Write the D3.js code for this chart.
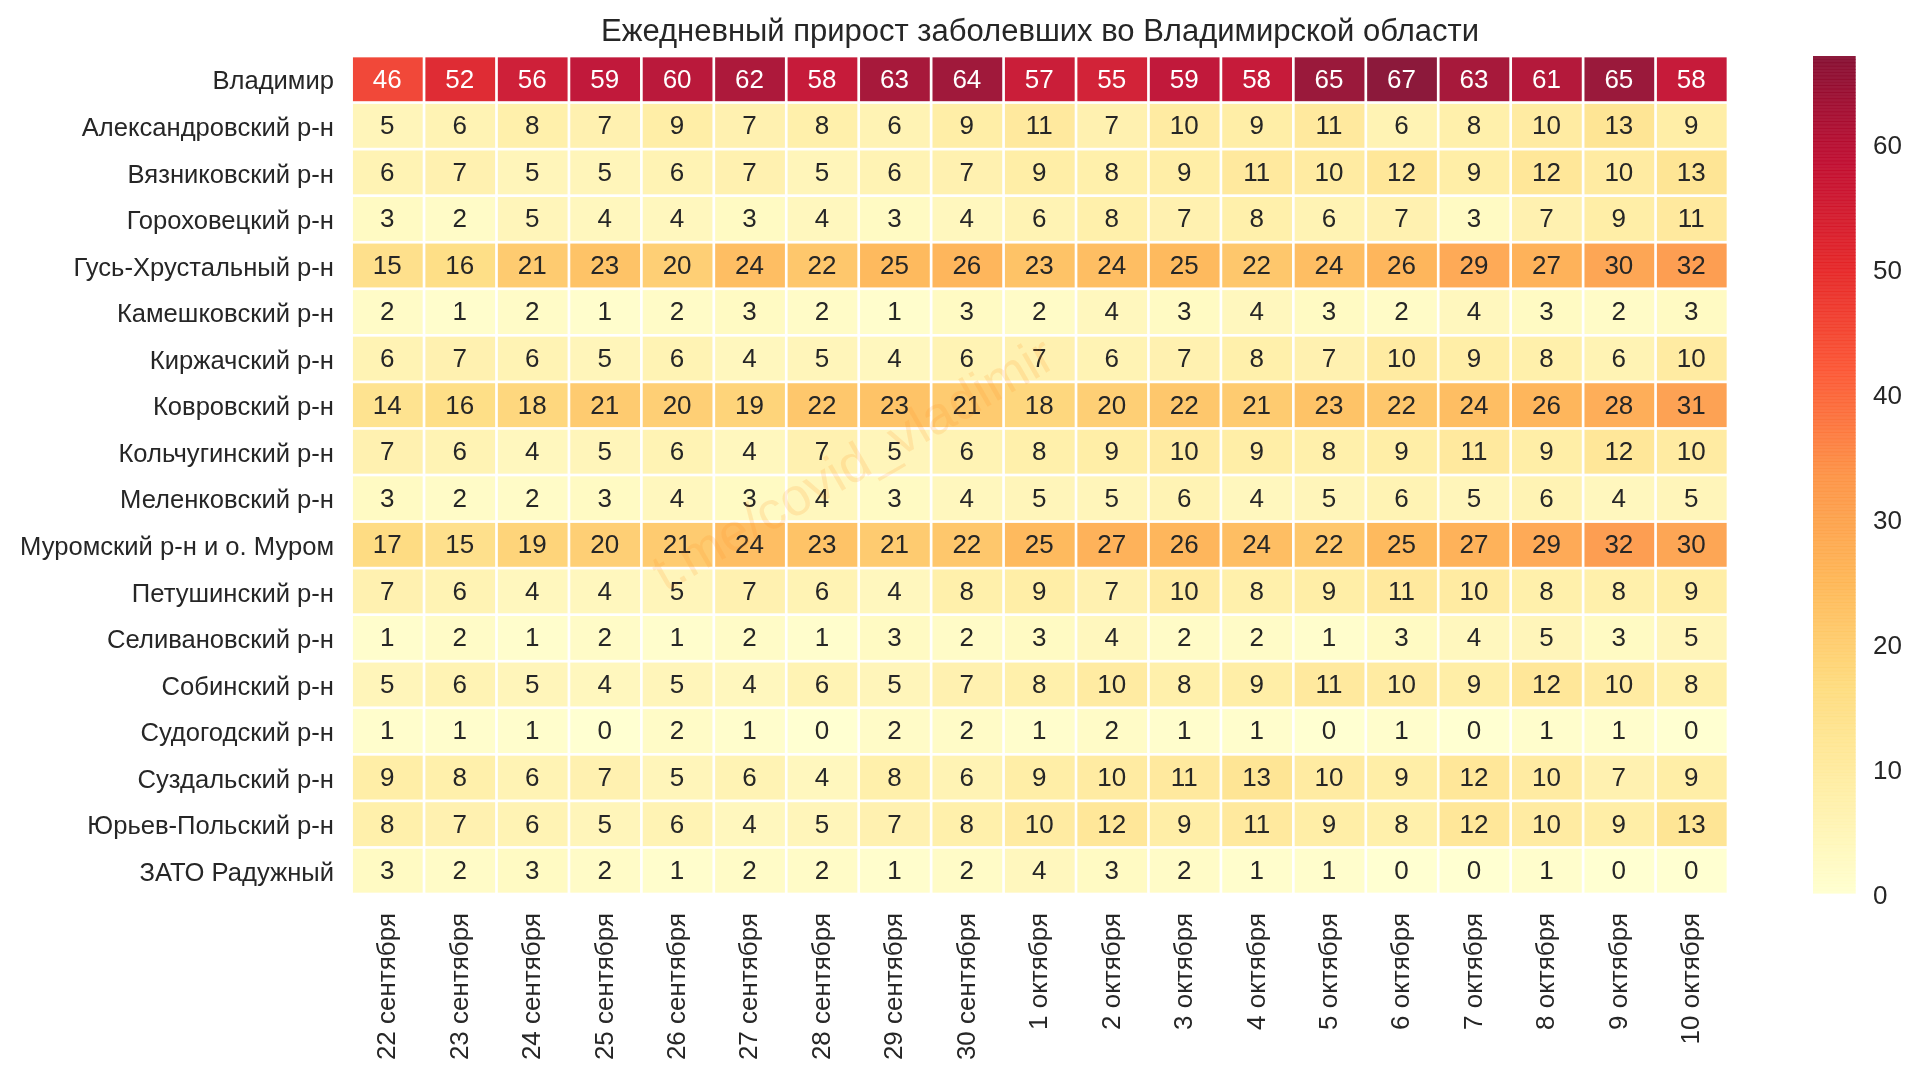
<!DOCTYPE html>
<html>
<head>
<meta charset="utf-8">
<script src="https://cdn.jsdelivr.net/npm/d3@7"></script>
<style>
  html, body { margin: 0; background: #fff; }
  svg { display: block; filter: blur(0.45px); }
  text { font-family: "Liberation Sans", Arial, sans-serif; fill: #262626; }
</style>
</head>
<body>
<svg id="chart" width="1920" height="1076"></svg>
<script>
const districts = ["Владимир", "Александровский р-н", "Вязниковский р-н", "Гороховецкий р-н", "Гусь-Хрустальный р-н", "Камешковский р-н", "Киржачский р-н", "Ковровский р-н", "Кольчугинский р-н", "Меленковский р-н", "Муромский р-н и о. Муром", "Петушинский р-н", "Селивановский р-н", "Собинский р-н", "Судогодский р-н", "Суздальский р-н", "Юрьев-Польский р-н", "ЗАТО Радужный"];
const days = ["22 сентября", "23 сентября", "24 сентября", "25 сентября", "26 сентября", "27 сентября", "28 сентября", "29 сентября", "30 сентября", "1 октября", "2 октября", "3 октября", "4 октября", "5 октября", "6 октября", "7 октября", "8 октября", "9 октября", "10 октября"];
const counts = [
  [46, 52, 56, 59, 60, 62, 58, 63, 64, 57, 55, 59, 58, 65, 67, 63, 61, 65, 58],
  [5, 6, 8, 7, 9, 7, 8, 6, 9, 11, 7, 10, 9, 11, 6, 8, 10, 13, 9],
  [6, 7, 5, 5, 6, 7, 5, 6, 7, 9, 8, 9, 11, 10, 12, 9, 12, 10, 13],
  [3, 2, 5, 4, 4, 3, 4, 3, 4, 6, 8, 7, 8, 6, 7, 3, 7, 9, 11],
  [15, 16, 21, 23, 20, 24, 22, 25, 26, 23, 24, 25, 22, 24, 26, 29, 27, 30, 32],
  [2, 1, 2, 1, 2, 3, 2, 1, 3, 2, 4, 3, 4, 3, 2, 4, 3, 2, 3],
  [6, 7, 6, 5, 6, 4, 5, 4, 6, 7, 6, 7, 8, 7, 10, 9, 8, 6, 10],
  [14, 16, 18, 21, 20, 19, 22, 23, 21, 18, 20, 22, 21, 23, 22, 24, 26, 28, 31],
  [7, 6, 4, 5, 6, 4, 7, 5, 6, 8, 9, 10, 9, 8, 9, 11, 9, 12, 10],
  [3, 2, 2, 3, 4, 3, 4, 3, 4, 5, 5, 6, 4, 5, 6, 5, 6, 4, 5],
  [17, 15, 19, 20, 21, 24, 23, 21, 22, 25, 27, 26, 24, 22, 25, 27, 29, 32, 30],
  [7, 6, 4, 4, 5, 7, 6, 4, 8, 9, 7, 10, 8, 9, 11, 10, 8, 8, 9],
  [1, 2, 1, 2, 1, 2, 1, 3, 2, 3, 4, 2, 2, 1, 3, 4, 5, 3, 5],
  [5, 6, 5, 4, 5, 4, 6, 5, 7, 8, 10, 8, 9, 11, 10, 9, 12, 10, 8],
  [1, 1, 1, 0, 2, 1, 0, 2, 2, 1, 2, 1, 1, 0, 1, 0, 1, 1, 0],
  [9, 8, 6, 7, 5, 6, 4, 8, 6, 9, 10, 11, 13, 10, 9, 12, 10, 7, 9],
  [8, 7, 6, 5, 6, 4, 5, 7, 8, 10, 12, 9, 11, 9, 8, 12, 10, 9, 13],
  [3, 2, 3, 2, 1, 2, 2, 1, 2, 4, 3, 2, 1, 1, 0, 0, 1, 0, 0]
];
const barTicks = [0, 10, 20, 30, 40, 50, 60];
const maxCount = 67;
// same stops as matplotlib YlOrRd, d3's own version is a spline and comes out different
const palette = ["#ffffcc", "#ffeda0", "#fed976", "#feb24c", "#fd8d3c", "#fc4e2a", "#e31a1c", "#bd0026", "#800026"];
const titleText = "Ежедневный прирост заболевших во Владимирской области";
const watermark = "t.me/covid_vladimir";

const svg = d3.select("#chart");

const x = d3.scaleBand().domain(days).range([351.6, 1728]);
const y = d3.scaleBand().domain(districts).range([56, 894]);
const color = d3.scaleLinear()
  .domain(palette.map((c, i) => i / (palette.length - 1) * maxCount))
  .range(palette);
const gap = 2.7;

// cells
const rows = svg.append("g").selectAll("g")
  .data(counts)
  .join("g")
  .attr("transform", (d, i) => `translate(0,${y(districts[i])})`);

rows.selectAll("rect")
  .data(d => d)
  .join("rect")
  .attr("x", (d, i) => x(days[i]) + gap / 2)
  .attr("y", gap / 2)
  .attr("width", x.bandwidth() - gap)
  .attr("height", y.bandwidth() - gap)
  .attr("fill", d => color(d))
  .attr("fill-opacity", 0.9);

// watermark sits between cells and numbers
svg.append("text")
  .attr("transform", "translate(855,467) rotate(-30)")
  .attr("text-anchor", "middle")
  .attr("dominant-baseline", "middle")
  .style("font-size", "53px")
  .style("fill", "#ff9020")
  .style("fill-opacity", 0.16)
  .text(watermark);

rows.selectAll("text")
  .data(d => d)
  .join("text")
  .attr("x", (d, i) => x(days[i]) + x.bandwidth() / 2 - 0.5)
  .attr("y", y.bandwidth() / 2 - 1)
  .attr("text-anchor", "middle")
  .attr("dy", "0.36em")
  .style("font-size", "26px")
  .style("fill", d => d >= 40 ? "#fff" : "#262626")
  .text(d => d);

// axes
const yAxis = svg.append("g")
  .attr("transform", "translate(334,0)")
  .call(d3.axisLeft(y).tickSize(0).tickPadding(0));
yAxis.select(".domain").remove();
yAxis.selectAll("text").style("font-size", "25.6px").attr("dy", "0.36em").attr("y", 1);

const xAxis = svg.append("g")
  .attr("transform", "translate(-2,913)")
  .call(d3.axisBottom(x).tickSize(0).tickPadding(0));
xAxis.select(".domain").remove();
xAxis.selectAll("text")
  .style("font-size", "26px")
  .attr("text-anchor", "end")
  .attr("transform", "rotate(-90)")
  .attr("x", 0)
  .attr("y", 0)
  .attr("dy", "0.36em");

// colorbar, 256 overlapping strips give the banding of the original
const barY = d3.scaleLinear().domain([0, maxCount]).range([893, 56]);
const levels = d3.range(256).map(i => i / 255 * maxCount);
const stripH = (barY(0) - barY(maxCount)) / 256;
svg.append("g").selectAll("rect")
  .data(levels)
  .join("rect")
  .attr("x", 1813)
  .attr("width", 42.7)
  .attr("y", (d, i) => 893 - stripH * (i + 1))
  .attr("height", stripH + 0.6)
  .attr("fill", d => color(d))
  .attr("fill-opacity", 0.9);

const barAxis = svg.append("g")
  .attr("transform", "translate(1873,0)")
  .call(d3.axisRight(barY).tickValues(barTicks).tickSize(0).tickPadding(0));
barAxis.select(".domain").remove();
barAxis.selectAll("text").style("font-size", "26px").attr("dy", "0.36em").attr("y", 1);

// title
svg.append("text")
  .attr("x", 1040)
  .attr("y", 41)
  .attr("text-anchor", "middle")
  .style("font-size", "31px")
  .text(titleText);
</script>
</body>
</html>
